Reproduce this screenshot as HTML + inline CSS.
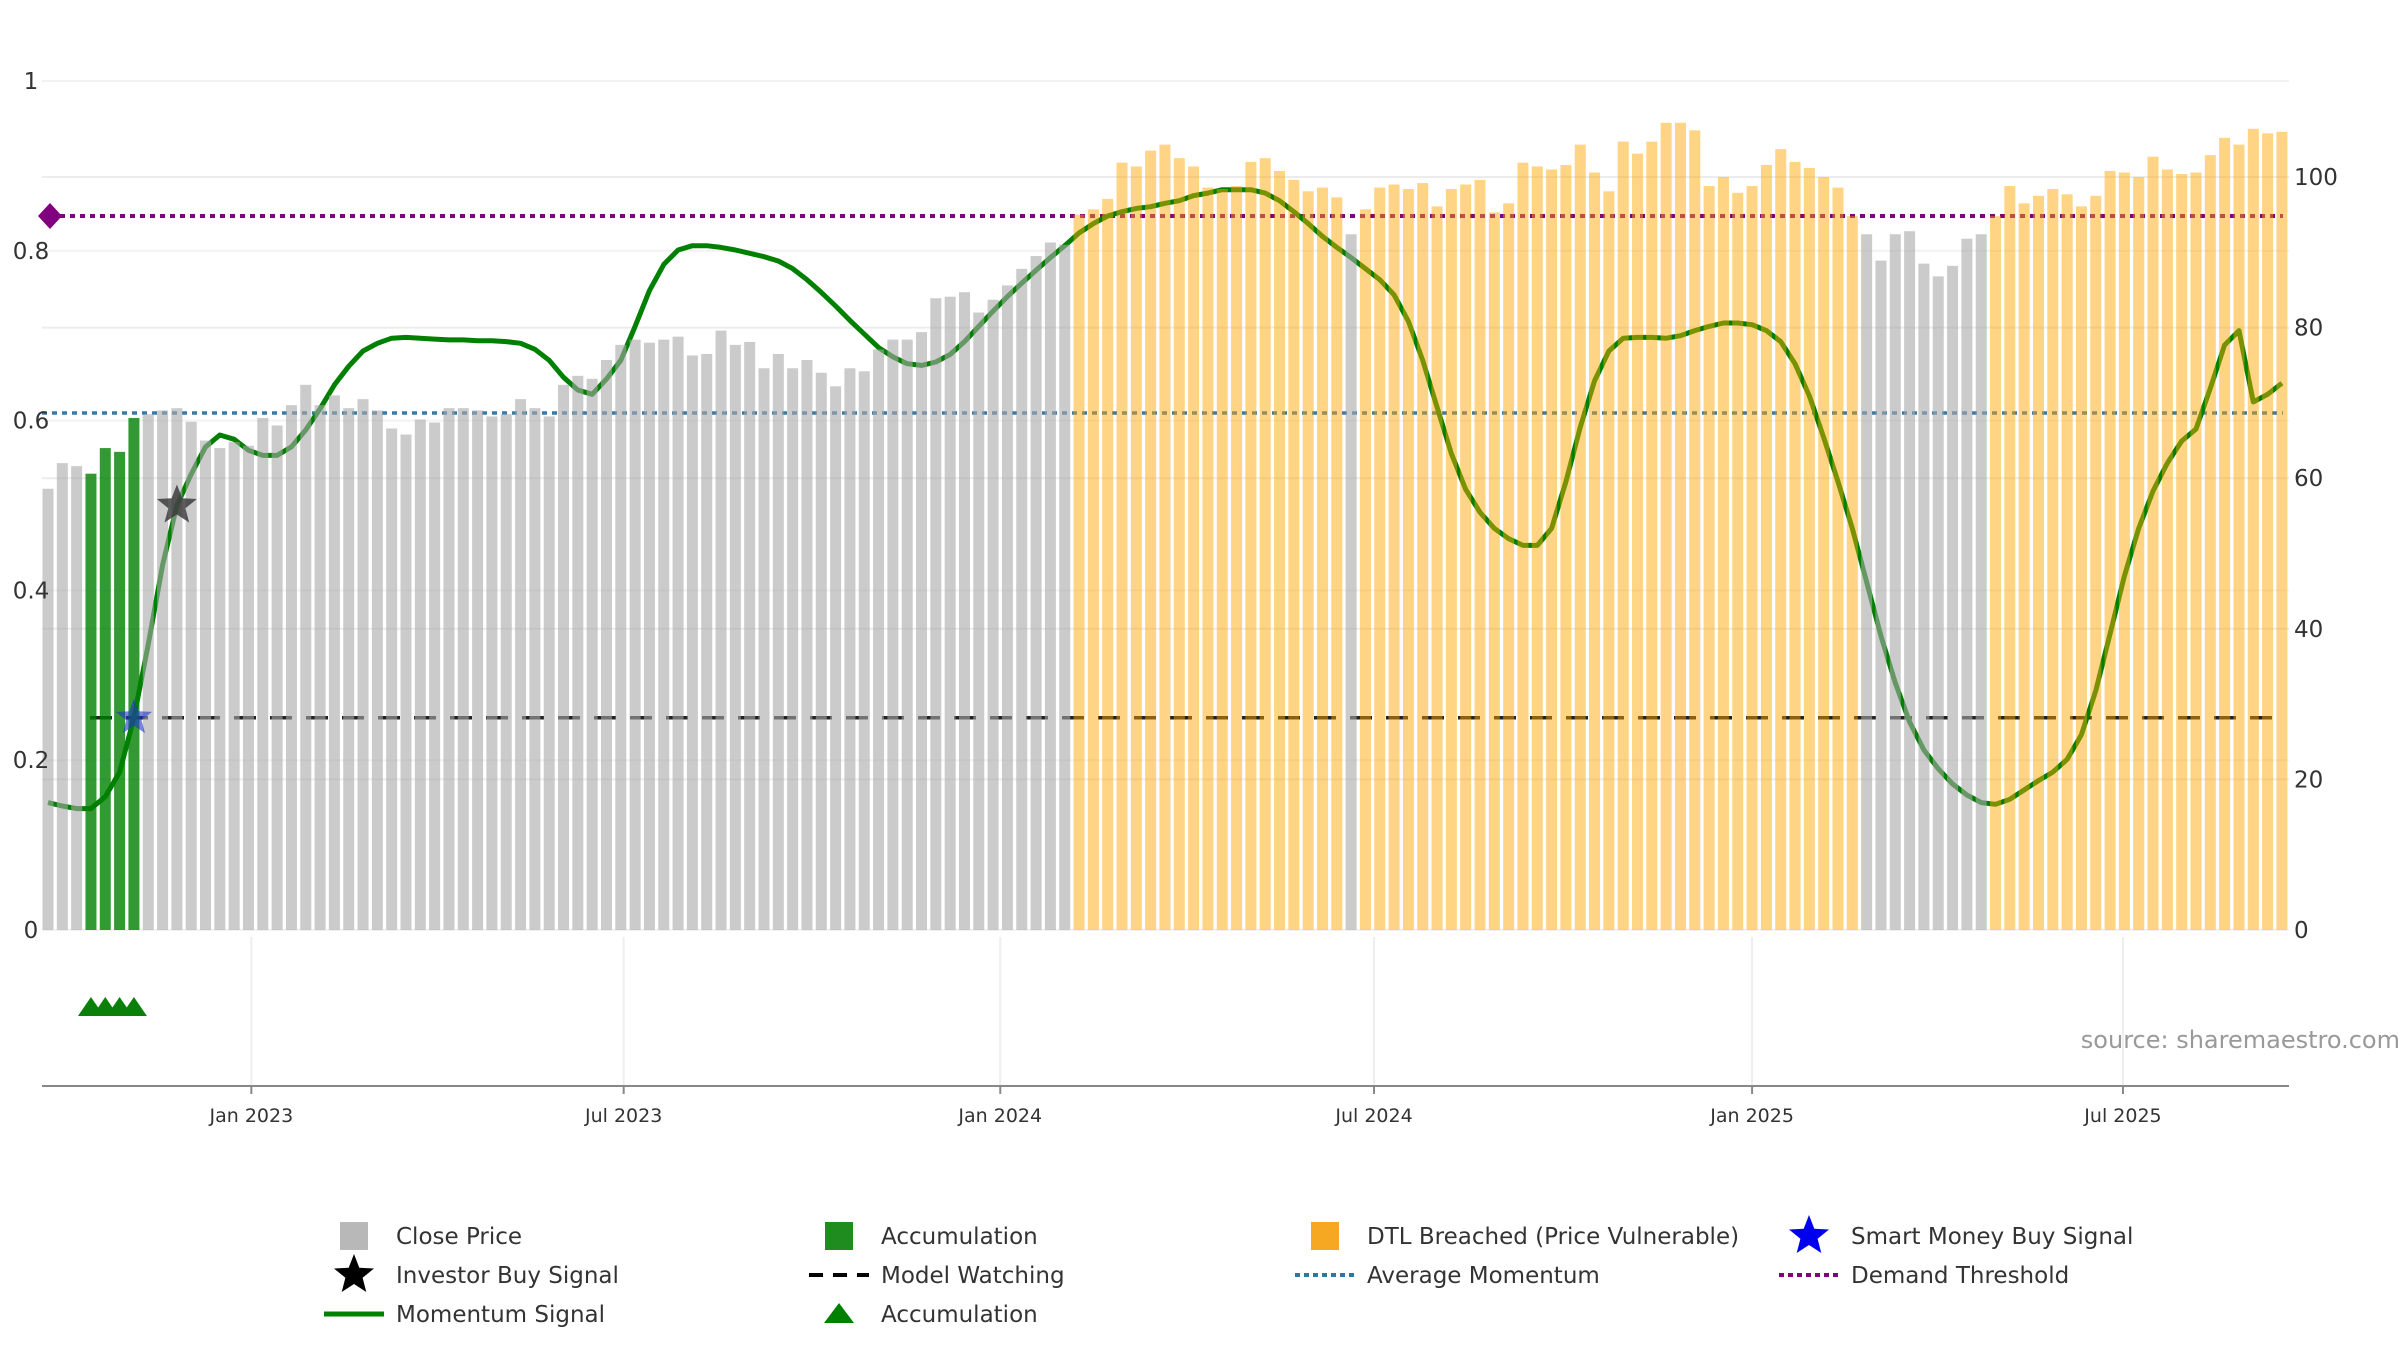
<!DOCTYPE html>
<html><head><meta charset="utf-8"><style>
html,body{margin:0;padding:0;background:#fff;}
svg{display:block;font-family:"DejaVu Sans","Liberation Sans",sans-serif;}
</style></head><body>
<svg id="chart" width="2400" height="1350" viewBox="0 0 2400 1350" xmlns="http://www.w3.org/2000/svg">
<g id="grid"></g>
<g id="refs"></g>
<g id="line"></g>
<g id="bars"></g>
<g id="marks"></g>
<g id="axes"></g>
<text x="2400" y="1048" font-size="24" fill="#999" text-anchor="end">source: sharemaestro.com</text>
<g id="legend"></g>
</svg>
<script>
// ---- data ----
const closePrice = [58.6,62,61.6,60.6,64,63.5,68,68.5,69,69.3,67.5,65,64,64.8,64.3,68,67,69.7,72.4,69.7,71,69.3,70.5,69,66.6,65.8,67.8,67.4,69.3,69.3,69,68.2,68.5,70.5,69.3,68.2,72.4,73.6,73.2,75.7,77.7,78.4,78,78.4,78.8,76.3,76.5,79.6,77.7,78.1,74.6,76.5,74.6,75.7,74,72.2,74.6,74.2,77.1,78.4,78.4,79.4,83.9,84.1,84.7,82,83.7,85.6,87.8,89.5,91.3,91,95,95.7,97.1,101.9,101.4,103.5,104.3,102.5,101.4,98.6,98.4,98.8,102,102.5,100.8,99.6,98.1,98.6,97.3,92.4,95.7,98.6,99,98.4,99.2,96.1,98.4,99,99.6,95.3,96.5,101.9,101.4,101,101.6,104.3,100.6,98.1,104.7,103.1,104.7,107.2,107.2,106.2,98.8,100,97.9,98.8,101.6,103.7,102,101.2,100,98.6,94.8,92.4,88.9,92.4,92.8,88.5,86.8,88.2,91.8,92.4,94.8,98.8,96.5,97.5,98.4,97.7,96.1,97.5,100.8,100.6,100,102.7,101,100.4,100.6,102.9,105.2,104.3,106.4,105.8,106];
const barState = (function(){const s=[];for(let i=0;i<157;i++){let t='close';if(i>=3&&i<=6)t='acc';else if((i>=72&&i<=90)||(i>=92&&i<=126)||(i>=136))t='dtl';s.push(t);}return s;})();
const momentum = [0.15,0.146,0.143,0.143,0.157,0.186,0.25,0.336,0.43,0.5,0.537,0.569,0.583,0.578,0.565,0.559,0.559,0.569,0.589,0.614,0.642,0.664,0.682,0.691,0.697,0.698,0.697,0.696,0.695,0.695,0.694,0.694,0.693,0.691,0.684,0.671,0.651,0.636,0.631,0.649,0.671,0.711,0.753,0.784,0.801,0.806,0.806,0.804,0.801,0.797,0.793,0.788,0.779,0.766,0.751,0.735,0.718,0.702,0.686,0.675,0.667,0.665,0.669,0.678,0.693,0.711,0.729,0.746,0.762,0.777,0.792,0.806,0.821,0.832,0.841,0.846,0.85,0.852,0.856,0.859,0.865,0.868,0.872,0.872,0.872,0.868,0.859,0.846,0.832,0.817,0.804,0.792,0.779,0.766,0.748,0.717,0.671,0.616,0.561,0.519,0.492,0.473,0.461,0.453,0.453,0.473,0.528,0.592,0.647,0.682,0.697,0.698,0.698,0.697,0.7,0.706,0.711,0.715,0.715,0.713,0.706,0.693,0.667,0.629,0.58,0.528,0.473,0.41,0.346,0.291,0.245,0.212,0.19,0.172,0.159,0.15,0.148,0.154,0.165,0.176,0.186,0.201,0.23,0.282,0.349,0.417,0.473,0.517,0.55,0.576,0.59,0.638,0.689,0.706,0.622,0.631,0.644];
const leftTicks = [0,0.2,0.4,0.6,0.8,1];
const leftTickLabels = ['0','0.2','0.4','0.6','0.8','1'];
const rightTicks = [0,20,40,60,80,100];
const dateLabels = ['Jan 2023','Jul 2023','Jan 2024','Jul 2024','Jan 2025','Jul 2025'];
const dateIndex = [14.2,40.2,66.5,92.6,119,144.9];
const demandThreshold = 0.841;
const avgMomentum = 0.609;
const modelWatching = 0.25;
const investorBuyIdx = [9];
const smartMoneyIdx = [6];
const accumulationIdx = [3,4,5,6];

// ---- scales ----
const X = i => 48 + i*14.32;
const YL = v => 930 - v*849;
const YR = v => 930 - v*7.53;
const NS='http://www.w3.org/2000/svg';
function mk(tag, attrs, parent){const e=document.createElementNS(NS,tag);for(const k in attrs)e.setAttribute(k,attrs[k]);parent.appendChild(e);return e;}
const G=id=>document.getElementById(id);

// grid
rightTicks.forEach(v=>{const l=mk('line',{x1:42,x2:2289,y1:YR(v),y2:YR(v),stroke:'#ececec','stroke-width':2},G('grid'));

});
leftTicks.forEach(v=>{const l=mk('line',{x1:42,x2:2289,y1:YL(v),y2:YL(v),stroke:'#f2f2f2','stroke-width':2},G('grid'));

});
dateIndex.forEach(d=>{const l=mk('line',{x1:X(d),x2:X(d),y1:937,y2:1086,stroke:'#eeeeee','stroke-width':2},G('grid'));

});

// bars (semi-transparent, drawn over line)
const colors={close:'#a9a9a9',acc:'#008000',dtl:'#ffa500'};
const ops={close:0.6,acc:0.8,dtl:0.48};
closePrice.forEach((v,i)=>{const r=mk('rect',{x:X(i)-5.5,y:YR(v),width:11,height:930-YR(v),fill:colors[barState[i]],'fill-opacity':ops[barState[i]]},G('bars'));

});

// reference lines
let l1=mk('line',{x1:50,x2:2283,y1:YL(demandThreshold),y2:YL(demandThreshold),stroke:'#800080','stroke-width':4,'stroke-dasharray':'5,5'},G('refs'));


let dm=mk('path',{d:`M38 ${YL(demandThreshold)} L50 ${YL(demandThreshold)-13} L62 ${YL(demandThreshold)} L50 ${YL(demandThreshold)+13}Z`,fill:'#800080'},G('refs'));


let l2=mk('line',{x1:42,x2:2283,y1:YL(avgMomentum),y2:YL(avgMomentum),stroke:'#3a7aa6','stroke-width':3.5,'stroke-dasharray':'5,5'},G('refs'));


let l3=mk('line',{x1:90,x2:2283,y1:YL(modelWatching),y2:YL(modelWatching),stroke:'#222','stroke-width':3.5,'stroke-dasharray':'22,14'},G('refs'));



// momentum line
const pts=momentum.map((v,i)=>X(i).toFixed(1)+','+YL(v).toFixed(1)).join(' ');
let pl=mk('polyline',{points:pts,fill:'none',stroke:'#008000','stroke-width':5,'stroke-linejoin':'round'},G('line'));



function starPath(cx,cy,R,r){let d='';for(let k=0;k<10;k++){const a=-Math.PI/2+k*Math.PI/5;const rr=k%2?r:R;d+=(k?'L':'M')+(cx+rr*Math.cos(a)).toFixed(1)+' '+(cy+rr*Math.sin(a)).toFixed(1);}return d+'Z';}
investorBuyIdx.forEach(i=>{const s=mk('path',{d:starPath(X(i),YL(momentum[i]),21,9),fill:'#333',opacity:0.8},G('marks'));

});
smartMoneyIdx.forEach(i=>{const s=mk('path',{d:starPath(X(i),YL(momentum[i]),19,8),fill:'#2233cc',opacity:0.6},G('marks'));

});
accumulationIdx.forEach(i=>{const t=mk('path',{d:`M${X(i)-13} 1016 L${X(i)} 997 L${X(i)+13} 1016Z`,fill:'#0a800a'},G('marks'));

});

// axes
leftTicks.forEach((v,k)=>{const t=mk('text',{x:31,y:YL(v)+8,'font-size':23,fill:'#333','text-anchor':'middle'},G('axes'));t.textContent=leftTickLabels[k];

});
rightTicks.forEach(v=>{const t=mk('text',{x:2294,y:YR(v)+8,'font-size':23,fill:'#333'},G('axes'));t.textContent=String(v);

});
let ax=mk('line',{x1:42,x2:2289,y1:1086,y2:1086,stroke:'#888','stroke-width':2},G('axes'));


dateLabels.forEach((s,k)=>{const tk=mk('line',{x1:X(dateIndex[k]),x2:X(dateIndex[k]),y1:1086,y2:1094,stroke:'#888','stroke-width':2},G('axes'));


const t=mk('text',{x:X(dateIndex[k]),y:1122,'font-size':19,fill:'#333','text-anchor':'middle'},G('axes'));t.textContent=s;

});

// legend
const lg=G('legend');
const cols=[354,839,1325,1809], rows=[1236,1275,1314];
function ltext(c,r,s,name){const t=mk('text',{x:cols[c]+42,y:rows[r]+8,'font-size':23,fill:'#333'},lg);t.textContent=s;

}
function sq(c,r,f,name){const e=mk('rect',{x:cols[c]-14,y:rows[r]-14,width:28,height:28,fill:f},lg);

}
sq(0,0,'#b8b8b8','legend-close-price-icon');ltext(0,0,'Close Price','legend-close-price');
sq(1,0,'#1e8c1e','legend-accumulation-icon');ltext(1,0,'Accumulation','legend-accumulation');
sq(2,0,'#f7a823','legend-dtl-icon');ltext(2,0,'DTL Breached (Price Vulnerable)','legend-dtl-breached');
let e;
e=mk('path',{d:starPath(cols[3],rows[0],21,9),fill:'#0000ee'},lg);


ltext(3,0,'Smart Money Buy Signal','legend-smart-money');
e=mk('path',{d:starPath(cols[0],rows[1],21,9),fill:'#000'},lg);


ltext(0,1,'Investor Buy Signal','legend-investor-buy');
e=mk('line',{x1:cols[1]-30,x2:cols[1]+30,y1:rows[1],y2:rows[1],stroke:'#000','stroke-width':4,'stroke-dasharray':'14,10'},lg);


ltext(1,1,'Model Watching','legend-model-watching');
e=mk('line',{x1:cols[2]-30,x2:cols[2]+30,y1:rows[1],y2:rows[1],stroke:'#2a78a8','stroke-width':4,'stroke-dasharray':'5,4'},lg);


ltext(2,1,'Average Momentum','legend-average-momentum');
e=mk('line',{x1:cols[3]-30,x2:cols[3]+30,y1:rows[1],y2:rows[1],stroke:'#800080','stroke-width':4,'stroke-dasharray':'5,4'},lg);


ltext(3,1,'Demand Threshold','legend-demand-threshold');
e=mk('line',{x1:cols[0]-30,x2:cols[0]+30,y1:rows[2],y2:rows[2],stroke:'#008000','stroke-width':5},lg);


ltext(0,2,'Momentum Signal','legend-momentum-signal');
e=mk('path',{d:`M${cols[1]-15} ${rows[2]+9} L${cols[1]} ${rows[2]-11} L${cols[1]+15} ${rows[2]+9}Z`,fill:'#008000'},lg);


ltext(1,2,'Accumulation','legend-accumulation-signal');
</script>
</body></html>
